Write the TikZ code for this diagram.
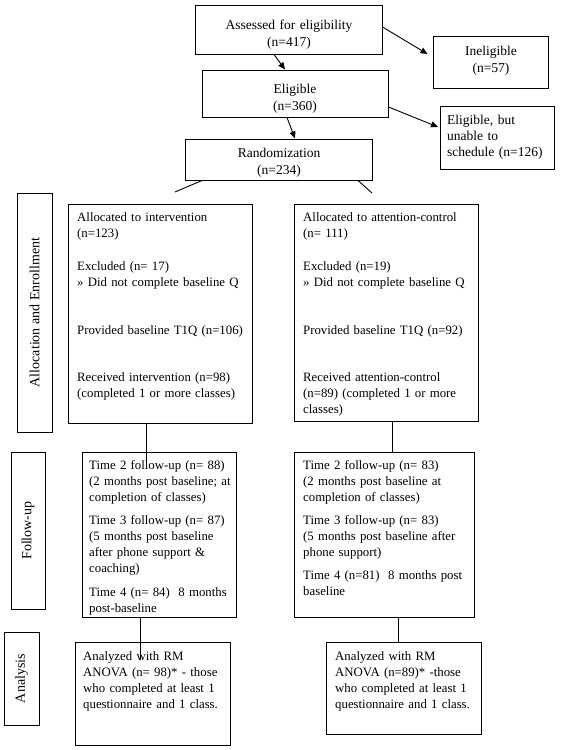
\documentclass[tikz,border=0pt]{standalone}
\usepackage{fontspec}
\setmainfont{Liberation Serif}
\usetikzlibrary{arrows.meta}
\begin{document}
\begin{tikzpicture}[x=1pt,y=-1pt,
  box/.style={draw, line width=1pt, inner sep=0pt},
  txt/.style={inner sep=0pt, anchor=base west, align=left, font=\fontsize{12.8}{16}\selectfont},
  toptxt/.style={inner sep=0pt, anchor=base, align=center, font=\fontsize{13.5}{17}\selectfont},
  side/.style={draw, line width=1pt, inner sep=0pt, rotate=90, font=\fontsize{14}{16}\selectfont},
  conn/.style={line width=0.9pt},
  arr/.style={line width=0.9pt, -{Triangle[length=7pt,width=6pt]}},
]
\fill[white] (0,0) rectangle (560,750);
\useasboundingbox (0,0) rectangle (560,750);

% top boxes
\node[box, minimum width=187, minimum height=49] (A) at (288.5,29.5) {};
\node[box, minimum width=115, minimum height=52] (I) at (490.5,62) {};
\node[box, minimum width=186, minimum height=47] (E) at (295,93.5) {};
\node[box, minimum width=114, minimum height=63] (U) at (497.5,137.5) {};
\node[box, minimum width=187, minimum height=41] (R) at (278.5,159.5) {};

\node[toptxt, text width=180] (tA) at (289,29) {Assessed for eligibility\\(n=417)};
\node[toptxt, text width=110] (tI) at (491,55) {Ineligible\\(n=57)};
\node[toptxt, text width=180] (tE) at (295,93) {Eligible\\(n=360)};
\node[toptxt, text width=180] (tR) at (279,157) {Randomization\\(n=234)};
\node[inner sep=0pt, anchor=base west, align=left, text width=105,
      font=\fontsize{13.5}{16}\selectfont] (tU) at (447,124) {Eligible, but\\unable to\\schedule (n=126)};

% side labels
\node[side, minimum width=239, minimum height=35] (SA) at (34.5,312.5) {Allocation and Enrollment};
\node[side, minimum width=157, minimum height=34] (SF) at (28,530.5) {Follow-up};
\node[side, minimum width=93, minimum height=35] (SN) at (21.5,678.5) {Analysis};

% main boxes
\node[box, minimum width=184, minimum height=219] (L1) at (160,313.5) {};
\node[box, minimum width=184, minimum height=217] (R1) at (386,312.5) {};
\node[box, minimum width=154, minimum height=165] (L2) at (159,534.5) {};
\node[box, minimum width=180, minimum height=165] (R2) at (384,534.5) {};
\node[box, minimum width=155, minimum height=103] (L3) at (152.5,693.5) {};
\node[box, minimum width=155, minimum height=92] (R3) at (403.5,688) {};

\node[txt, text width=172] (tL1) at (77,221) {Allocated to intervention\\(n=123)\\[17pt]Excluded (n= 17)\\» Did not complete baseline Q\\[32pt]Provided baseline T1Q (n=106)\\[31pt]Received intervention (n=98)\\(completed 1 or more classes)};
\node[txt, text width=172] (tR1) at (303,221) {Allocated to attention-control\\(n= 111)\\[17pt]Excluded (n=19)\\» Did not complete baseline Q\\[32pt]Provided baseline T1Q (n=92)\\[31pt]Received attention-control\\(n=89) (completed 1 or more\\classes)};

\node[txt, text width=146] (tL2) at (89,469) {Time 2 follow-up (n= 88)\\(2 months post baseline; at\\completion of classes)\\[7pt]Time 3 follow-up (n= 87)\\(5 months post baseline\\after phone support \&\\coaching)\\[8pt]Time 4 (n= 84)\ \ 8 months\\post-baseline};
\node[txt, text width=170] (tR2) at (303,469) {Time 2 follow-up (n= 83)\\(2 months post baseline at\\completion of classes)\\[7pt]Time 3 follow-up (n= 83)\\(5 months post baseline after\\phone support)\\[7pt]Time 4 (n=81)\ \ 8 months post\\baseline};

\node[txt, text width=146] (tL3) at (83,660) {Analyzed with RM\\ANOVA (n= 98)* - those\\who completed at least 1\\questionnaire and 1 class.};
\node[txt, text width=145] (tR3) at (335,660) {Analyzed with RM\\ANOVA (n=89)* -those\\who completed at least 1\\questionnaire and 1 class.};

% connectors
\draw[arr] ([yshift=2.5pt]A.east) -- ([xshift=-5pt,yshift=8pt]I.west);
\draw[arr] ([xshift=-14.5pt]A.south) -- ([xshift=-10pt]E.north);
\draw[arr] ([yshift=-13.5pt]E.east) -- ([xshift=-2pt,yshift=10.5pt]U.west);
\draw[arr] ([xshift=-8pt]E.south) -- ([xshift=16.5pt]R.north);
\coordinate (rl) at (175,192);
\coordinate (rr) at (372,193);
\draw[conn] ([xshift=-76.5pt]R.south) -- (rl);
\draw[conn] ([xshift=79.5pt]R.south) -- (rr);
\coordinate (c1) at (146,463);
\draw[conn] ([xshift=-14pt]L1.south) -- (c1);
\draw[conn] ([xshift=6pt]R1.south) -- ([xshift=6pt]R1.south |- R2.north);
\coordinate (c2) at (140,660);
\draw[conn] ([xshift=-19pt]L2.south) -- (c2);
\draw[conn] ([xshift=14pt]R2.south) -- ([xshift=14pt]R2.south |- R3.north);
\end{tikzpicture}
\end{document}
